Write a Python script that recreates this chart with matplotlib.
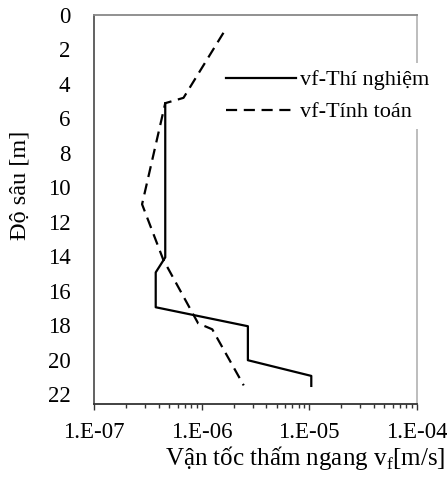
import numpy as np
import matplotlib
matplotlib.use("Agg")
import matplotlib.pyplot as plt
from matplotlib.ticker import LogLocator, FixedLocator, NullFormatter

plt.rcParams['font.family'] = ['Liberation Serif', 'DejaVu Serif']
plt.rcParams['mathtext.fontset'] = 'custom'
plt.rcParams['mathtext.rm'] = 'Liberation Serif'

# Độ sâu (m) và vận tốc thấm ngang (m/s)
sau_thi_nghiem = [5.14, 14.08, 14.95, 16.97, 18.07, 20.04, 20.95, 21.53]
vf_thi_nghiem = [4.6e-7, 4.6e-7, 3.75e-7, 3.75e-7, 2.7e-6, 2.7e-6, 1.05e-5, 1.05e-5]

sau_tinh_toan = [1.06, 4.83, 5.14, 11.0, 14.2, 17.9, 18.25, 21.5]
vf_tinh_toan = [1.6e-6, 6.8e-7, 4.6e-7, 2.8e-7, 4.4e-7, 9.3e-7, 1.26e-6, 2.47e-6]

x_ticks = [1e-7, 1e-6, 1e-5, 1e-4]
x_tick_labels = ['1.E-07', '1.E-06', '1.E-05', '1.E-04']
y_ticks = list(range(0, 23, 2))

fig = plt.figure(figsize=(4.47, 4.79), dpi=100)
ax = fig.add_axes([0.2103, 0.1576, 0.7215, 0.8121])

ax.plot(vf_thi_nghiem, sau_thi_nghiem, color='black', lw=1.6,
        label='vf-Thí nghiệm')
ax.plot(vf_tinh_toan, sau_tinh_toan, color='black', lw=1.6,
        linestyle=(0, (5, 3)), label='vf-Tính toán')

ax.set_xscale('log')
ax.set_xlim(1e-7, 1e-4)
ax.set_ylim(22.55, 0)

ax.xaxis.set_major_locator(FixedLocator(x_ticks))
ax.set_xticklabels(x_tick_labels, fontsize=16.5)
ax.xaxis.set_minor_locator(LogLocator(base=10, subs=np.arange(2, 10)))
ax.xaxis.set_minor_formatter(NullFormatter())
ax.tick_params(axis='x', which='major', length=4, width=1, color='#333333', pad=9)
ax.tick_params(axis='x', which='minor', length=3, width=1, color='#333333')

ax.set_yticks(y_ticks)
ax.tick_params(axis='y', which='both', length=0, pad=17, labelsize=16.5)

ax.spines['left'].set_color('#555555')
ax.spines['bottom'].set_color('#333333')
ax.spines['top'].set_color('#888888')
ax.spines['right'].set_color('#b8b8b8')
for s in ax.spines.values():
    s.set_linewidth(1.3)

ax.set_xlabel(r'Vận tốc thấm ngang v$_\mathrm{f}$[m/s]', fontsize=18)
ax.xaxis.set_label_coords(0.655, -0.105)
ax.set_ylabel('Độ sâu [m]', fontsize=17.5)
ax.yaxis.set_label_coords(-0.197, 0.56)

leg = ax.legend(loc='upper left', bbox_to_anchor=(0.39, 0.875), fontsize=16,
                frameon=True, facecolor='white', edgecolor='none', framealpha=1,
                handlelength=3.15, handletextpad=0.14, labelspacing=0.52,
                borderpad=0.3, borderaxespad=0)

fig.savefig('out.png', dpi=100)
